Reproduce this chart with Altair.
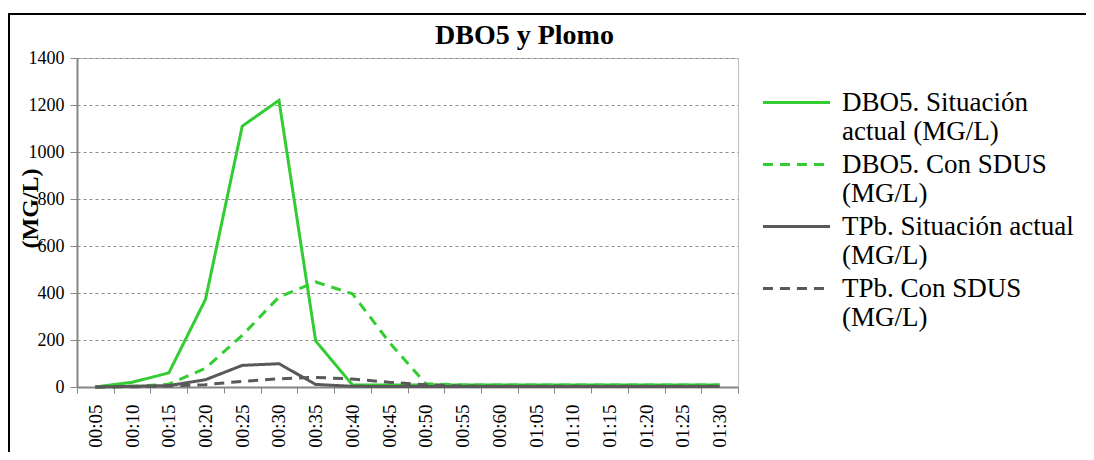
import altair as alt
import pandas as pd

times = ["00:05", "00:10", "00:15", "00:20", "00:25", "00:30", "00:35", "00:40",
         "00:45", "00:50", "00:55", "00:60", "01:05", "01:10", "01:15", "01:20",
         "01:25", "01:30"]

series_names = [
    "DBO5. Situación|actual (MG/L)",
    "DBO5.  Con SDUS|(MG/L)",
    "TPb. Situación actual|(MG/L)",
    "TPb. Con SDUS|(MG/L)",
]

dbo_actual = [0, 20, 60, 373, 1110, 1220, 196, 9, 9, 9, 9, 9, 9, 9, 9, 9, 9, 9]
dbo_sdus = [0, 3, 12, 80, 220, 383, 447, 397, 191, 14, 9, 9, 9, 9, 9, 9, 9, 9]
tpb_actual = [0, 3, 6, 31, 92, 99, 11, 3, 2, 2, 2, 2, 2, 2, 2, 2, 2, 2]
tpb_sdus = [0, 1, 4, 10, 24, 35, 41, 34, 20, 10, 4, 3, 3, 3, 3, 3, 3, 3]

colors = ["#33cc33", "#33cc33", "#595959", "#595959"]
dashes = [[1, 0], [10, 7], [1, 0], [10, 7]]

rows = []
for name, vals in zip(series_names, [dbo_actual, dbo_sdus, tpb_actual, tpb_sdus]):
    for t, v in zip(times, vals):
        rows.append({"time": t, "value": v, "serie": name})
df = pd.DataFrame(rows)

FONT = "Liberation Serif"

legend = alt.Legend(
    title=None, orient="none", legendX=688, legendY=31,
    symbolType="M-5,0H5", symbolSize=180, symbolStrokeWidth=3,
    symbolOffset=18,
    labelFont=FONT, labelFontSize=27, labelColor="black", labelLimit=400,
    labelOffset=32, labelExpr="split(datum.label, '|')",
    labelBaseline="middle",
    rowPadding=5, padding=0,
)

lines = alt.Chart(df).mark_line(strokeWidth=3).encode(
    x=alt.X("time:N", sort=times, bandPosition=0.5,
            scale=alt.Scale(type="band", paddingInner=0, paddingOuter=0),
            axis=alt.Axis(title=None, tickBand="extent", labelAngle=270,
                          labelFont=FONT, labelFontSize=19, labelColor="black",
                          labelPadding=11, tickSize=6, tickColor="#868686",
                          domainColor="#868686", domainWidth=2, grid=False)),
    y=alt.Y("value:Q", scale=alt.Scale(domain=[0, 1400], nice=False),
            axis=alt.Axis(values=list(range(0, 1401, 200)), format="d",
                          title="(MG/L)",
                          titleFont=FONT, titleFontSize=24, titleFontWeight="bold",
                          titleColor="black", titleX=-47, titleY=150,
                          titleAngle=270, titleBaseline="middle",
                          labelFont=FONT, labelFontSize=18, labelColor="black",
                          labelPadding=6, tickSize=7, tickColor="#868686",
                          domainColor="#868686", domainWidth=2,
                          grid=True, gridColor="#8c8c8c", gridDash=[3, 3],
                          gridWidth=1)),
    color=alt.Color("serie:N", sort=series_names,
                    scale=alt.Scale(domain=series_names, range=colors),
                    legend=legend),
    strokeDash=alt.StrokeDash("serie:N", sort=series_names,
                              scale=alt.Scale(domain=series_names, range=dashes),
                              legend=legend),
)

frame_df = pd.DataFrame({"k": [0]})
frame_top = alt.Chart(frame_df).mark_rule(color="black", strokeWidth=2).encode(
    x=alt.value(-69), x2=alt.value(1020), y=alt.value(-44))
frame_left = alt.Chart(frame_df).mark_rule(color="black", strokeWidth=2).encode(
    x=alt.value(-68), y=alt.value(-45), y2=alt.value(460))

chart = alt.layer(lines, frame_top, frame_left).properties(
    width=661, height=329,
    title=alt.TitleParams("DBO5 y Plomo", font=FONT, fontSize=28,
                          fontWeight="bold", color="black", anchor="middle",
                          frame="group", baseline="alphabetic",
                          dx=117, dy=67, offset=7),
    padding={"left": 69, "top": 50, "right": 348, "bottom": 65},
    autosize=alt.AutoSizeParams(type="none"),
    background="white",
).configure_view(stroke="#bfbfbf", strokeWidth=1)

chart.save("out.html", embed_options={"renderer": "svg", "actions": False})
